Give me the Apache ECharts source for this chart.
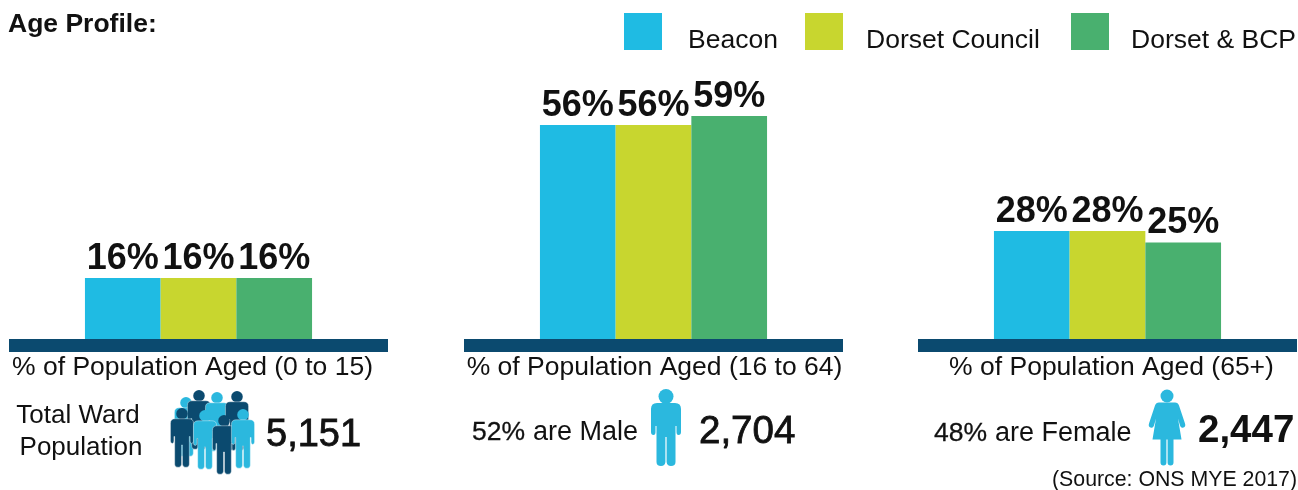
<!DOCTYPE html>
<html><head><meta charset="utf-8">
<style>html,body{margin:0;padding:0;background:#fff}#c{width:1298px;height:490px}</style>
<script src="https://cdn.jsdelivr.net/npm/echarts@6/dist/echarts.min.js"></script>
</head><body><div id="c"></div>
<script>
const ageBands = ['% of Population Aged (0 to 15)', '% of Population Aged (16 to 64)', '% of Population Aged (65+)'];
const seriesNames = ['Beacon', 'Dorset Council', 'Dorset & BCP'];
const beacon = [16.05, 56.3, 28.4];
const dorsetCouncil = [16.05, 56.3, 28.4];
const dorsetBcp = [16.05, 58.7, 25.4];
const colors = ['#1FBBE3', '#C8D62F', '#49B06F'];
const navy = '#0B4A6F', sky = '#2BB8DE', ink = '#111';
const font = '"Liberation Sans", Arial, sans-serif';
const values = [beacon, dorsetCouncil, dorsetBcp];
const gridLefts = [9, 464, 918];
const labelPads = [[0, 12, 0, 0], [0, 0, 0, 2], [0, 0, 0, 8]];
const legendLefts = [624, 805, 1071];
const legendPads = [21, 18, 17];

const grids = [], xAxes = [], yAxes = [], series = [];
ageBands.forEach((band, i) => {
  grids.push({left: gridLefts[i], width: 379, top: 35, bottom: 151});
  xAxes.push({
    type: 'category', gridIndex: i, data: [band], offset: 6.5,
    axisLine: {onZero: false, lineStyle: {color: navy, width: 13, cap: 'butt'}}, axisTick: {show: false},
    axisLabel: {interval: 0, margin: 9, fontSize: 26.5, color: ink, fontFamily: font, hideOverlap: false, padding: labelPads[i]}
  });
  yAxes.push({type: 'value', gridIndex: i, min: 0, max: 80, show: false, splitLine: {show: false}});
  seriesNames.forEach((name, s) => {
    series.push({
      type: 'bar', name, xAxisIndex: i, yAxisIndex: i, barWidth: 75.7, barGap: 0,
      itemStyle: {color: colors[s]}, data: [values[s][i]],
      label: {show: true, position: 'top', distance: 1, formatter: p => Math.round(p.value) + '%', fontSize: 36, fontWeight: 'bold', color: ink, fontFamily: font}
    });
  });
});

const legends = seriesNames.map((name, i) => ({
  left: legendLefts[i], top: 13, padding: 0, data: [name], selectedMode: false,
  icon: 'path://M0,0H38V37H0Z M0,55H38V55H0Z',
  itemWidth: 38, itemHeight: 55,
  textStyle: {fontSize: 26.5, color: ink, fontFamily: font, padding: [0, 0, 0, legendPads[i]]}
}));

function text(x, y, t, size, opt) {
  return {type: 'text', x, y, z: 5, style: Object.assign({text: t, fontSize: size, fontFamily: font, fill: ink, verticalAlign: 'middle'}, opt || {})};
}
const medium = w => ({stroke: ink, lineWidth: w});
const malePath = 'M-9,14 H9 Q15,14 15,20 V43 Q15,46 12.5,46 Q10.5,46 10.5,43 V37 H9.5 V73 Q9.5,77 5,77 Q1,77 .6,73 V48 H-.6 V73 Q-1,77 -5,77 Q-9.5,77 -9.5,73 V37 H-10.5 V43 Q-10.5,46 -12.5,46 Q-15,46 -15,43 V20 Q-15,14 -9,14 Z';
const femalePath = 'M-8,13 H8 Q11,13 12,16 L18,34 Q19,37 16.5,38 Q14,39 13,36 L11,29 L14.5,50 H6.5 V73 Q6.5,76 3.5,76 Q.6,76 .6,73 V50 H-.6 V73 Q-.6,76 -3.5,76 Q-6.5,76 -6.5,73 V50 H-14.5 L-11,29 L-13,36 Q-14,39 -16.5,38 Q-19,37 -18,34 L-12,16 Q-11,13 -8,13 Z';
echarts.graphic.registerShape('maleBody', echarts.graphic.extendPath(malePath, {}));
echarts.graphic.registerShape('femaleBody', echarts.graphic.extendPath(femalePath, {}));
function person(x, y, s, color, female, outline) {
  const o = outline ? {stroke: '#fff', lineWidth: .5} : {};
  return {type: 'group', x, y, scaleX: s, scaleY: s, z: 4, children: [
    {type: 'circle', shape: {cx: 0, cy: female ? 6.5 : 7.5, r: female ? 6.5 : 7.5}, style: {fill: color}},
    {type: female ? 'femaleBody' : 'maleBody', style: Object.assign({fill: color}, o)}
  ]};
}
const crowd = [
  [186, 397, sky], [199, 390, navy], [217, 392, sky], [237, 391, navy],
  [182, 408, navy], [205, 410, sky], [224, 415, navy], [243, 409, sky]
];
const graphic = [
  text(8, 25, 'Age Profile:', 26.5, {fontWeight: 'bold'}),
  text(78, 416, 'Total Ward', 26, {align: 'center'}),
  text(81, 448, 'Population', 26, {align: 'center'}),
  text(266, 436, '5,151', 38, medium(.8)),
  text(472, 433, '52%', 26.5, medium(.3)),
  text(533, 433, 'are Male', 27),
  text(699, 432, '2,704', 38.5, medium(.8)),
  text(934, 434, '48%', 26.5, medium(.3)),
  text(995, 434, 'are Female', 27),
  text(1198, 431, '2,447', 38.5, {fontWeight: 'bold'}),
  text(1052, 480, '(Source: ONS MYE 2017)', 21.3),
  person(666, 389, 1, sky, false),
  person(1167, 389.5, 1, sky, true)
].concat(crowd.map(c => person(c[0], c[1], .77, c[2], false, true)));

const chart = echarts.init(document.getElementById('c'), null, {renderer: 'canvas'});
chart.setOption({
  animation: false, backgroundColor: '#fff', textStyle: {fontFamily: font},
  legend: legends, grid: grids, xAxis: xAxes, yAxis: yAxes, series, graphic: {elements: graphic}
});
</script></body></html>
